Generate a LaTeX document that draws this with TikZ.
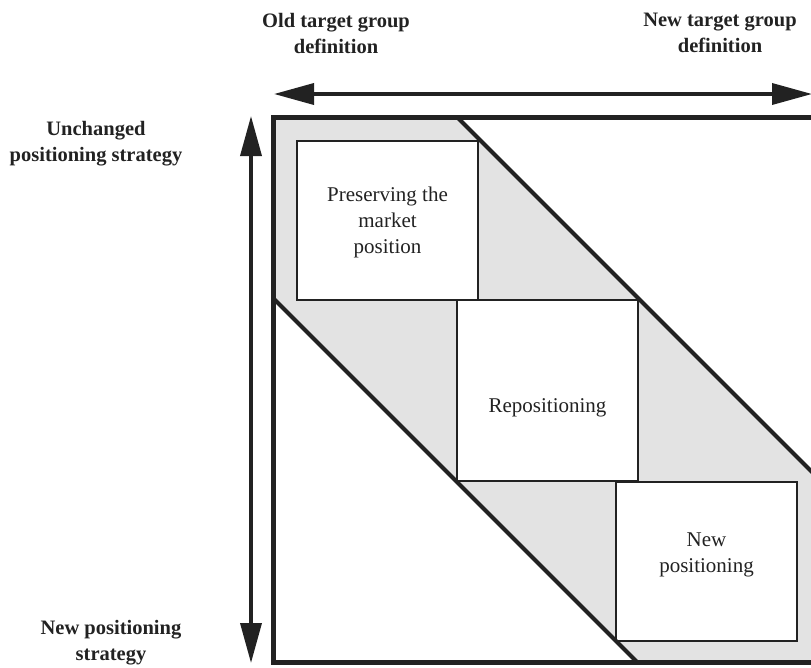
\documentclass[tikz,border=0pt]{standalone}
\usepackage{fontspec}
\setmainfont{Liberation Serif}
\usetikzlibrary{arrows.meta}
\definecolor{ink}{HTML}{222222}
\definecolor{band}{HTML}{E3E3E3}
\begin{document}
\begin{tikzpicture}[x=1pt,y=-1pt,
  axis/.style={line width=3.6pt,draw=ink,{Triangle[length=40pt,width=21pt]}-{Triangle[length=40pt,width=21pt]}},
  frame/.style={line width=5pt,draw=ink},
  diag/.style={line width=4pt,draw=ink},
  cell/.style={draw=ink,line width=2.4pt,fill=white,rectangle,inner sep=0pt},
  celltext/.style={font=\fontsize{21}{26}\selectfont,align=center,text=ink},
  head/.style={font=\bfseries\fontsize{20.5}{26}\selectfont,align=center,text=ink}]
\useasboundingbox (0,0) rectangle (811,667);
\clip (0,0) rectangle (811,667);

% shaded band between the two diagonals
\fill[band] (273,117) -- (457,117) -- (820,480) -- (820,662) -- (637,662) -- (273,298) -- cycle;

% white cells sitting on the band
\node[cell,minimum width=181pt,minimum height=159pt] (keep) at (387.5,220.5) {};
\node[cell,minimum width=181pt,minimum height=181pt] (repos) at (547.5,390.5) {};
\node[cell,minimum width=181pt,minimum height=159pt] (newpos) at (706.5,561.5) {};

\node[celltext] (tkeep) at (387.5,222) {Preserving the\\market\\position};
\node[celltext] (trepos) at (547.5,408) {Repositioning};
\node[celltext] (tnewpos) at (706.5,555) {New\\positioning};

% diagonals
\coordinate (ua) at (457,117);
\coordinate (ub) at (820,480);
\coordinate (la) at (273,298);
\coordinate (lb) at (637,662);
\draw[diag] (ua) -- (ub);
\draw[diag] (la) -- (lb);

% outer frame
\draw[frame] (273,117) rectangle (820,662);

% axes
\coordinate (hl) at (274,94);
\coordinate (hr) at (812,94);
\coordinate (vt) at (251,116);
\coordinate (vb) at (251,663);
\draw[axis] (hl) -- (hr);
\draw[axis] (vt) -- (vb);

% axis labels
\node[head] (old) at (336,33) {Old target group\\definition};
\node[head] (new) at (720,33) {New target group\\definition};
\node[head] (keepstrat) at (96,144) {Unchanged\\positioning strategy};
\node[head] (newstrat) at (111,643) {New positioning\\strategy};
\end{tikzpicture}
\end{document}
